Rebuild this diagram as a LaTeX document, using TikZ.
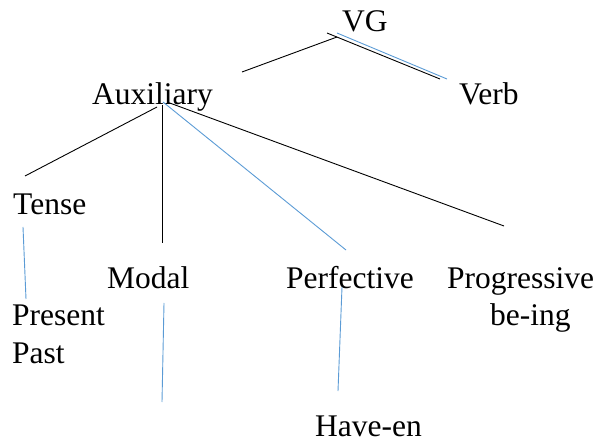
\documentclass[tikz,border=0pt]{standalone}
\usepackage{fontspec}
\setmainfont{Liberation Serif}
\definecolor{wordblue}{RGB}{91,155,213}
\begin{document}
\begin{tikzpicture}[x=1pt,y=-1pt,
  lbl/.style={anchor=base west,inner sep=0pt,font=\fontsize{31.5}{37}\selectfont},
  blk/.style={draw=black,line width=0.9pt},
  blu/.style={draw=wordblue,line width=0.9pt}]
\useasboundingbox (0,0) rectangle (598,441);
% labels
\node[lbl] (vg)   at (342,32)  {VG};
\node[lbl] (aux)  at (92,105)  {Auxiliary};
\node[lbl] (verb) at (459,105) {Verb};
\node[lbl] (tense) at (13,215) {Tense};
\node[lbl] (modal) at (107,289) {Modal};
\node[lbl] (perf) at (286,289) {Perfective};
\node[lbl] (prog) at (447,289) {Progressive};
\node[lbl] (being) at (490,326) {be-ing};
\node[lbl] (present) at (12,326) {Present};
\node[lbl] (past) at (12,363) {Past};
\node[lbl,text depth=0pt] (haveen) at (315,436) {Have-en};
% connector end points
\coordinate (vgL)  at (337,37);
\coordinate (vgK)  at (327,33);
\coordinate (vgB)  at (337,33);
\coordinate (auxT) at (242,72);
\coordinate (verbK) at (440,79);
\coordinate (verbB) at (447,79);
\coordinate (auxA) at (157,107);
\coordinate (auxV) at (162,105);
\coordinate (auxP) at (163,102);
\coordinate (auxG) at (167,102);
\coordinate (tenseT) at (25,176);
\coordinate (modalT) at (162,243);
\coordinate (perfT) at (346,250);
\coordinate (progT) at (504,226);
\coordinate (tenseB) at (23,227);
\coordinate (presT) at (26,299);
\coordinate (modalB) at (164,303);
\coordinate (modalE) at (162,402);
\coordinate (perfB) at (342,287);
\coordinate (haveT) at (338,391);
% tree lines
\draw[blk] (auxT) -- (vgL);
\draw[blk] (vgK) -- (verbK);
\draw[blu] (vgB) -- (verbB);
\draw[blk] (auxA) -- (tenseT);
\draw[blk] (auxV) -- (modalT);
\draw[blu] (auxP) -- (perfT);
\draw[blk] (auxG) -- (progT);
\draw[blu] (tenseB) -- (presT);
\draw[blu] (modalB) -- (modalE);
\draw[blu] (perfB) -- (haveT);
\end{tikzpicture}
\end{document}
